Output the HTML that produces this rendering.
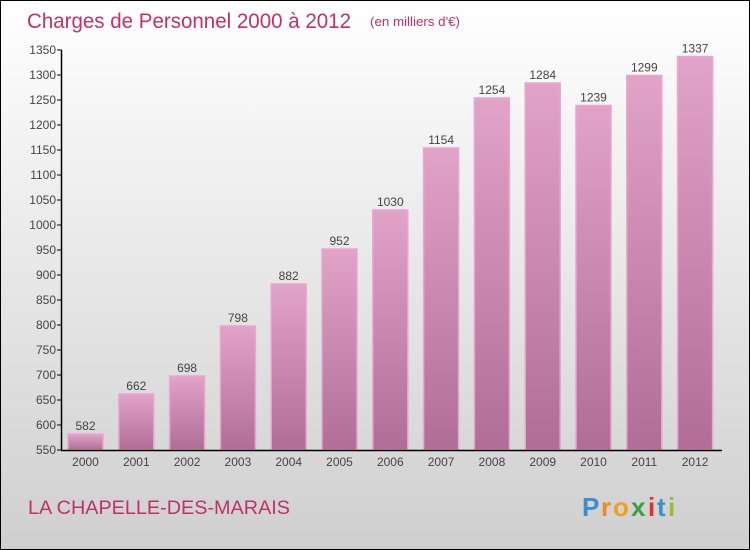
<!DOCTYPE html>
<html><head><meta charset="utf-8"><style>
body{margin:0}
#c{width:750px;height:550px;position:relative;box-sizing:border-box;border:1px solid #000;background:linear-gradient(#ffffff,#cfcfcf);font-family:"Liberation Sans",sans-serif;overflow:hidden}
</style></head><body>
<div id="c">
<svg width="750" height="550" style="position:absolute;left:-1px;top:-1px">
<defs><linearGradient id="bg" x1="0" y1="0" x2="0" y2="1"><stop offset="0" stop-color="#e2a3c8"/><stop offset="1" stop-color="#b06e96"/></linearGradient></defs>
<text x="27" y="28" font-size="21" fill="#c0306a" textLength="324" lengthAdjust="spacingAndGlyphs">Charges de Personnel 2000 à 2012</text>
<text x="370" y="26" font-size="13" fill="#c0306a" textLength="90" lengthAdjust="spacingAndGlyphs">(en milliers d'€)</text>
<g id="plot"></g>
<text x="28" y="514" font-size="19" fill="#c0306a" textLength="262" lengthAdjust="spacingAndGlyphs">LA CHAPELLE-DES-MARAIS</text>
<g font-size="26" font-weight="bold">
<text x="582" y="516" fill="#3a8fd0">P</text><text x="601" y="516" fill="#f08a20">r</text><text x="613" y="516" fill="#f0a020">o</text><text x="631" y="516" fill="#3aa040">x</text><text x="648" y="516" fill="#e03030">i</text><text x="657" y="516" fill="#3a8fd0">t</text><text x="668" y="516" fill="#90c030">i</text></g>
</svg>
<script>
const years=["2000","2001","2002","2003","2004","2005","2006","2007","2008","2009","2010","2011","2012"];
const values=[582,662,698,798,882,952,1030,1154,1254,1284,1239,1299,1337];
const ticks=[550,600,650,700,750,800,850,900,950,1000,1050,1100,1150,1200,1250,1300,1350];
const NS="http://www.w3.org/2000/svg";
const g=document.getElementById('plot');
const y=v=>450-(v-550)*0.5;
const x=i=>85.5+i*50.8;
function mk(t,a,txt){const e=document.createElementNS(NS,t);for(const k in a)e.setAttribute(k,a[k]);if(txt!==undefined)e.textContent=txt;g.appendChild(e);return e;}
ticks.forEach(t=>{
const l=mk('line',{x1:57,x2:62,y1:y(t),y2:y(t),stroke:'#000'});


const tx=mk('text',{x:56,y:y(t)+4,'font-size':12,fill:'#444','text-anchor':'end'},t);


});
values.forEach((v,i)=>{
const r=mk('rect',{x:x(i)-17.5,y:y(v),width:35,height:450-y(v),fill:'url(#bg)',stroke:'#eaa6cf','stroke-width':1.5});


const vl=mk('text',{x:x(i),y:y(v)-4,'font-size':12,fill:'#444','text-anchor':'middle'},v);


const xl=mk('text',{x:x(i),y:466,'font-size':12,fill:'#444','text-anchor':'middle'},years[i]);


});
const ya=mk('line',{x1:61.5,x2:61.5,y1:y(1350),y2:450.5,stroke:'#000','stroke-width':1.5});


const xa=mk('line',{x1:61,x2:722,y1:450.5,y2:450.5,stroke:'#000','stroke-width':1.5});


</script>
</div>
</body></html>
